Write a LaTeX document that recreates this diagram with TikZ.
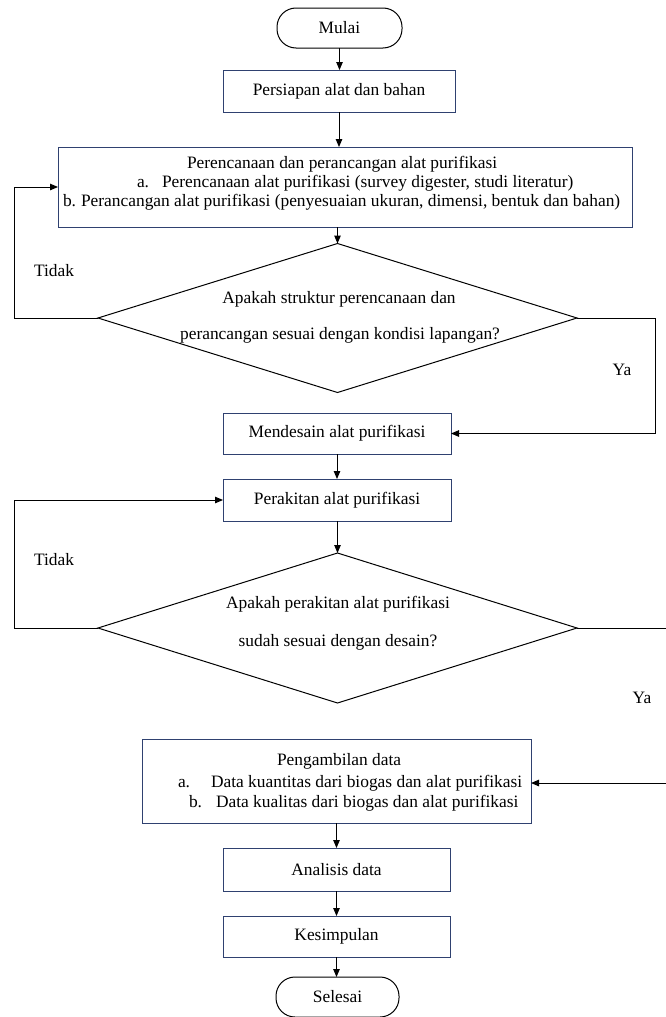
\documentclass[tikz,border=0pt]{standalone}
\usepackage{fontspec}
\setmainfont{Liberation Serif}
\usetikzlibrary{arrows.meta,shapes.geometric}
\definecolor{boxblue}{HTML}{2F4170}
\begin{document}
\begin{tikzpicture}[x=1pt,y=-1pt,
  every node/.style={font=\fontsize{17.4}{20}\selectfont, inner sep=0pt, outer sep=0pt},
  procbox/.style={draw=boxblue, line width=1pt, rectangle},
  term/.style={draw=black, line width=1pt, rectangle, rounded corners=19pt},
  decision/.style={draw=black, line width=1pt, diamond},
  arr/.style={draw=black, line width=1pt, -{Triangle[length=8pt,width=6.5pt]}},
  conn/.style={draw=black, line width=1pt},
  txt/.style={anchor=base west},
  ctxt/.style={anchor=base}]
\useasboundingbox (0,0) rectangle (665,1017);

% terminals and process boxes
\node[term, minimum width=125, minimum height=40] (start) at (339.5,28) {Mulai};
\node[procbox, minimum width=232, minimum height=42] (prep) at (339,91) {Persiapan alat dan bahan};
\node[procbox, minimum width=574, minimum height=80] (plan) at (345,187) {};
\node[txt] (planT) at (187,168) {Perencanaan dan perancangan alat purifikasi};
\node[txt] (planA) at (137,187) {a.};
\node[txt] (planAT) at (162,187) {Perencanaan alat purifikasi (survey digester, studi literatur)};
\node[txt] (planB) at (63,206) {b.};
\node[txt] (planBT) at (81,206) {Perancangan alat purifikasi (penyesuaian ukuran, dimensi, bentuk dan bahan)};

\node[decision, minimum width=479, minimum height=149] (d1) at (337.5,318) {};
\node[ctxt] (d1a) at (339,303) {Apakah struktur perencanaan dan};
\node[ctxt] (d1b) at (340,339) {perancangan sesuai dengan kondisi lapangan?};

\node[procbox, minimum width=228, minimum height=41] (des) at (337,433.5) {Mendesain alat purifikasi};
\node[procbox, minimum width=228, minimum height=42] (asm) at (337,500) {Perakitan alat purifikasi};

\node[decision, minimum width=479, minimum height=150] (d2) at (337.5,628) {};
\node[ctxt] (d2a) at (338,608) {Apakah perakitan alat purifikasi};
\node[ctxt] (d2b) at (338,646) {sudah sesuai dengan desain?};

\node[procbox, minimum width=389, minimum height=84] (data) at (336.5,781) {};
\node[txt] (dataT) at (277,765) {Pengambilan data};
\node[txt] (dataA) at (178,787) {a.};
\node[txt] (dataAT) at (211,787) {Data kuantitas dari biogas dan alat purifikasi};
\node[txt] (dataB) at (189,807) {b.};
\node[txt] (dataBT) at (216,807) {Data kualitas dari biogas dan alat purifikasi};

\node[procbox, minimum width=227, minimum height=43] (ana) at (336.5,869.5) {Analisis data};
\node[procbox, minimum width=227, minimum height=41] (kes) at (336.5,936.5) {Kesimpulan};
\node[term, minimum width=123, minimum height=40] (end) at (337.5,997) {Selesai};

% labels
\node (tidak1) at (54,271) {Tidak};
\node (ya1) at (622,370) {Ya};
\node (tidak2) at (54,560) {Tidak};
\node (ya2) at (642,698) {Ya};

% helper coordinates
\coordinate (l1) at (14,0);
\coordinate (r1) at (655,0);
\coordinate (r2) at (672,0);

% main flow
\draw[arr] (start.south) -- (start.south |- prep.north);
\draw[arr] (prep.south) -- (prep.south |- plan.north);
\draw[arr] (d1.north |- plan.south) -- (d1.north);
\draw[arr] (des.south) -- (asm.north);
\draw[arr] (d2.north |- asm.south) -- (d2.north);
\draw[arr] (data.south) -- (ana.north);
\draw[arr] (ana.south) -- (kes.north);
\draw[arr] (kes.south) -- (kes.south |- end.north);

% loops
\draw[arr] (d1.west) -- (d1.west -| l1) |- (plan.west);
\draw[arr] (d1.east) -- (d1.east -| r1) |- (des.east);
\draw[arr] (d2.west) -- (d2.west -| l1) |- (asm.west);
\draw[conn] (d2.east) -- (d2.east -| r2);
\draw[arr] ([yshift=-2pt]data.east -| r2) -- ([yshift=-2pt]data.east);
\end{tikzpicture}
\end{document}
